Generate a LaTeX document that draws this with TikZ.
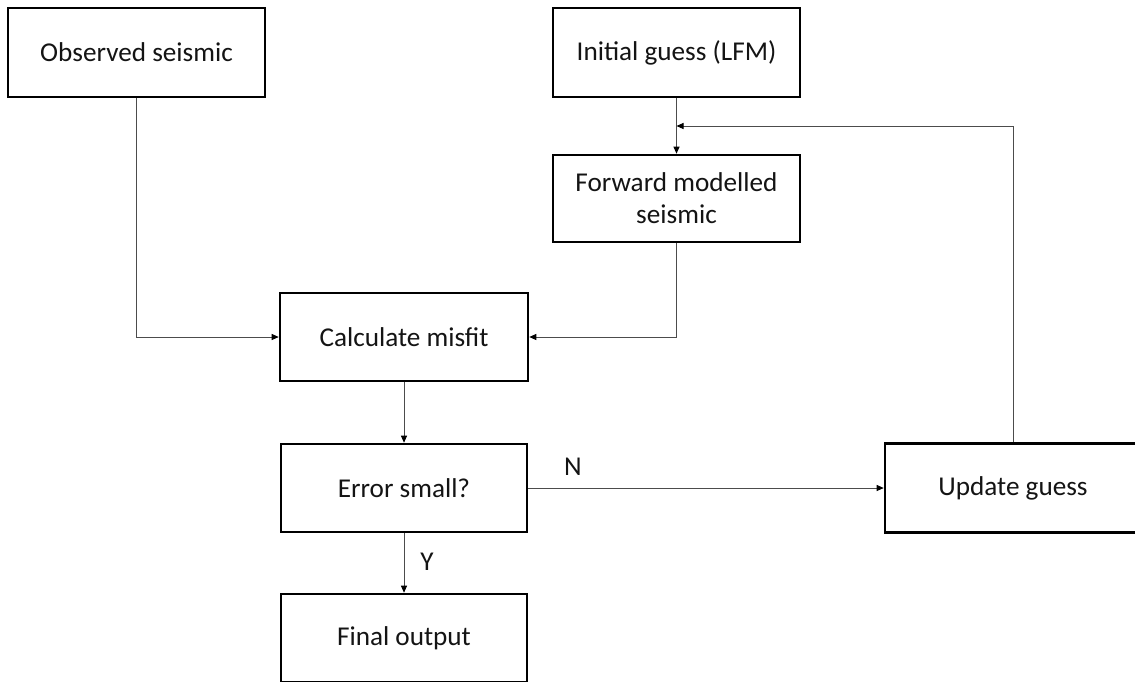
\documentclass[tikz,border=0pt]{standalone}
\usepackage{fontspec}
\setmainfont{Carlito}
\usetikzlibrary{arrows.meta}
\begin{document}
\begin{tikzpicture}[x=1pt,y=-1pt,
  box/.style={draw=black,line width=2.6pt,fill=white,inner sep=0pt,align=center,font=\fontsize{27.2}{32}\selectfont,text=black!92},
  conn/.style={draw=black!70,line width=0.9pt},
  arr/.style={conn,-{Triangle[length=7pt,width=6pt,fill=black,color=black]}},
  lbl/.style={font=\fontsize{27.2}{32}\selectfont,text=black!92}]
\clip (0,0) rectangle (1135,681);
\fill[white] (0,0) rectangle (1135,681);
\node[box,minimum width=257pt,minimum height=89pt] (obs) at (136.5,52.5) {Observed seismic};
\node[box,minimum width=247pt,minimum height=89pt] (init) at (676.5,52.5) {Initial guess (LFM)};
\node[box,minimum width=247pt,minimum height=87pt] (fwd) at (676.5,198.5) {Forward modelled\\seismic};
\node[box,minimum width=248pt,minimum height=88pt] (calc) at (404,337) {Calculate misfit};
\node[box,minimum width=246pt,minimum height=88pt] (err) at (404,488) {Error small?};
\node[box,minimum width=246pt,minimum height=88pt] (fin) at (404,638) {Final output};
\node[box,minimum width=256pt,minimum height=89pt] (upd) at (1013,488) {Update guess};
\coordinate (fb) at (676.5,126);
\draw[arr] (init.south) -- (fwd.north);
\draw[arr] (obs.south) |- (calc.west);
\draw[arr] (fwd.south) |- (calc.east);
\draw[arr] (calc.south) -- (err.north);
\draw[arr] (err.south) -- (fin.north);
\draw[arr] (err.east) -- (upd.west);
\draw[arr] (upd.north) |- (fb);
\node[lbl] (n) at (573,467) {N};
\node[lbl] (y) at (427,562) {Y};
\end{tikzpicture}
\end{document}
